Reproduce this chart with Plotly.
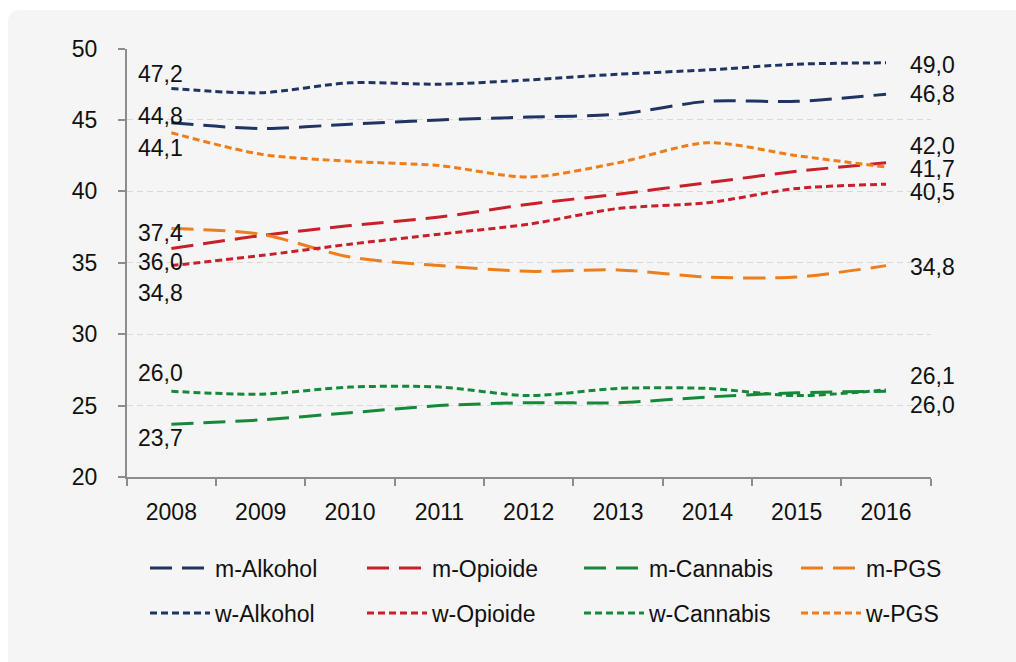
import plotly.graph_objects as go

years = ["2008", "2009", "2010", "2011", "2012", "2013", "2014", "2015", "2016"]

m_alkohol = [44.8, 44.4, 44.7, 45.0, 45.2, 45.4, 46.3, 46.3, 46.8]
m_opioide = [36.0, 36.9, 37.6, 38.2, 39.1, 39.8, 40.6, 41.4, 42.0]
m_cannabis = [23.7, 24.0, 24.5, 25.0, 25.2, 25.2, 25.6, 25.9, 26.0]
m_pgs = [37.4, 37.0, 35.4, 34.8, 34.4, 34.5, 34.0, 34.0, 34.8]
w_alkohol = [47.2, 46.9, 47.6, 47.5, 47.8, 48.2, 48.5, 48.9, 49.0]
w_opioide = [34.8, 35.5, 36.3, 37.0, 37.7, 38.8, 39.2, 40.2, 40.5]
w_cannabis = [26.0, 25.8, 26.3, 26.3, 25.7, 26.2, 26.2, 25.7, 26.1]
w_pgs = [44.1, 42.6, 42.1, 41.8, 41.0, 42.0, 43.4, 42.5, 41.7]

y_ticks = [20, 25, 30, 35, 40, 45, 50]

NAVY = "#1F3462"
RED = "#C8202A"
GREEN = "#17883A"
ORANGE = "#EE7D1A"
FONT = "Liberation Sans"
FS = 23
W, H = 1016, 662

series = [
    ("m-Alkohol", m_alkohol, NAVY, "long", "legend"),
    ("m-Opioide", m_opioide, RED, "long", "legend"),
    ("m-Cannabis", m_cannabis, GREEN, "long", "legend"),
    ("m-PGS", m_pgs, ORANGE, "long", "legend"),
    ("w-Alkohol", w_alkohol, NAVY, "short", "legend2"),
    ("w-Opioide", w_opioide, RED, "short", "legend2"),
    ("w-Cannabis", w_cannabis, GREEN, "short", "legend2"),
    ("w-PGS", w_pgs, ORANGE, "short", "legend2"),
]
dashes = {"long": "22px,10px", "short": "7px,4px"}

fig = go.Figure()
for name, vals, col, style, lg in series:
    fig.add_trace(go.Scatter(
        x=years, y=vals, name=name, mode="lines",
        line=dict(color=col, width=3, dash=dashes[style], shape="spline", smoothing=0.8),
        legend=lg, hoverinfo="skip",
    ))

def fmt(v):
    return f"{v:.1f}".replace(".", ",")

# label vertical offsets (px) for start / end labels
left_shift = {"w-Alkohol": 14, "m-Alkohol": 7, "w-PGS": -15, "m-PGS": -5,
              "m-Opioide": -14, "w-Opioide": -27, "w-Cannabis": 18, "m-Cannabis": -14}
right_shift = {"w-Alkohol": -2, "m-Alkohol": 0, "m-Opioide": 17, "w-PGS": -2,
               "w-Opioide": -8, "m-PGS": -1, "w-Cannabis": 14, "m-Cannabis": -14}

first_idx, last_idx = 0, len(years) - 1
annotations = []
for name, vals, col, style, lg in series:
    annotations.append(dict(x=first_idx, y=vals[0], text=fmt(vals[0]), xref="x", yref="y",
                            showarrow=False, xanchor="left", yanchor="middle",
                            xshift=-35, yshift=left_shift[name],
                            font=dict(family=FONT, size=FS, color="#111111")))
    annotations.append(dict(x=last_idx, y=vals[-1], text=fmt(vals[-1]), xref="x", yref="y",
                            showarrow=False, xanchor="left", yanchor="middle",
                            xshift=22, yshift=right_shift[name],
                            font=dict(family=FONT, size=FS, color="#111111")))

# rounded panel background
x0, y0 = 8 / W, 1 - 10 / H
x1, y1 = 1.02, -0.02
rx, ry = 12 / W, 12 / H
panel = (f"M{x0},{y0 - ry} Q{x0},{y0} {x0 + rx},{y0} L{x1},{y0} L{x1},{y1} "
         f"L{x0},{y1} Z")

legend_style = dict(
    orientation="h", xanchor="left", yanchor="middle",
    bgcolor="rgba(0,0,0,0)", font=dict(family=FONT, size=FS, color="#111111"),
    entrywidth=142, itemwidth=60, traceorder="normal",
)

fig.update_layout(
    width=W, height=H,
    margin=dict(l=0, r=0, t=0, b=0, autoexpand=False),
    paper_bgcolor="white",
    plot_bgcolor="rgba(0,0,0,0)",
    font=dict(family=FONT, size=FS, color="#111111"),
    shapes=[dict(type="path", path=panel, xref="paper", yref="paper",
                 fillcolor="#F5F5F5", line=dict(width=0), layer="below")],
    annotations=annotations,
    xaxis=dict(
        domain=[126.7 / W, 930.7 / W],
        type="category", range=[-0.5, len(years) - 0.5], autorange=False,
        automargin=False, tickangle=0,
        showgrid=False, zeroline=False,
        showline=True, linecolor="#8C8C8C", linewidth=1.5,
        ticks="outside", tickson="boundaries", ticklen=7, tickcolor="#8C8C8C", tickwidth=1.5,
        ticklabelstandoff=14,
        tickfont=dict(family=FONT, size=FS, color="#111111"),
        fixedrange=True,
    ),
    yaxis=dict(
        domain=[1 - 477 / H, 1 - 48.5 / H],
        range=[20, 50], autorange=False, automargin=False,
        tickvals=y_ticks,
        showgrid=True, gridcolor="#D9D9D9", gridwidth=1, griddash="6px,4px",
        zeroline=False,
        showline=True, linecolor="#8C8C8C", linewidth=1.5,
        ticks="outside", ticklen=7, tickcolor="#8C8C8C", tickwidth=1.5,
        ticklabelstandoff=16,
        tickfont=dict(family=FONT, size=FS, color="#111111"),
        fixedrange=True,
    ),
    legend=dict(x=145 / W, y=1 - 568 / H, **legend_style),
    legend2=dict(x=145 / W, y=1 - 613 / H, **legend_style),
    showlegend=True,
)

fig.write_html("out.html", config={"displayModeBar": False})
